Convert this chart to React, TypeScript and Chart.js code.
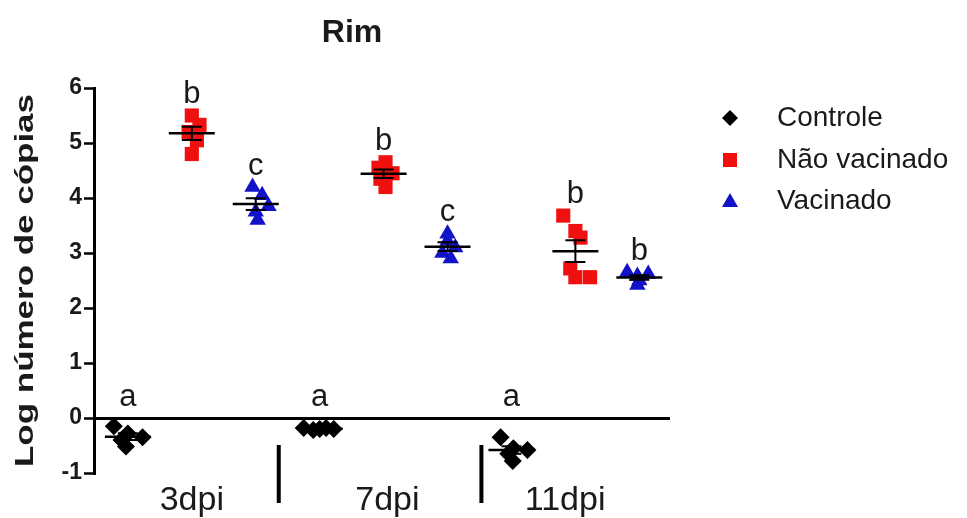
import React, { useEffect, useRef } from 'react';
import { Chart, registerables } from 'chart.js';

Chart.register(...registerables);

// ---------- data ----------
const chartTitle = 'Rim';
const yAxisTitle = 'Log número de cópias';
const dayLabels = ['3dpi', '7dpi', '11dpi'];
const seriesNames = ['Controle', 'Não vacinado', 'Vacinado'];

// values per day (3dpi, 7dpi, 11dpi)
const controleValues = [
  [-0.15, -0.28, -0.35, -0.4, -0.52],
  [-0.18, -0.2, -0.2, -0.22, -0.18],
  [-0.35, -0.55, -0.58, -0.65, -0.78],
];
const naoVacinadoValues = [
  [5.5, 5.33, 5.2, 5.05, 4.8],
  [4.65, 4.55, 4.45, 4.35, 4.2],
  [3.68, 3.4, 3.28, 2.72, 2.56, 2.56],
];
const vacinadoValues = [
  [4.2, 4.05, 3.85, 3.75, 3.6],
  [3.35, 3.22, 3.1, 3.0, 2.9],
  [2.65, 2.62, 2.58, 2.5, 2.42],
];
// horizontal scatter of the points inside their column (column units)
const controleJitter = [
  [-0.22, 0, 0.23, -0.1, -0.03],
  [-0.25, 0, 0.22, -0.1, 0.1],
  [-0.17, 0.03, 0.25, -0.05, 0.02],
];
const naoVacinadoJitter = [
  [0, 0.12, -0.05, 0.08, 0],
  [0.03, -0.08, 0.14, -0.05, 0.03],
  [-0.19, 0, 0.08, -0.08, 0, 0.23],
];
const vacinadoJitter = [
  [-0.05, 0.1, 0.2, 0, 0.03],
  [0, 0, 0.12, -0.08, 0.05],
  [-0.19, 0.14, -0.03, 0, -0.03],
];
const controleLetters = ['a', 'a', 'a'];
const naoVacinadoLetters = ['b', 'b', 'b'];
const vacinadoLetters = ['c', 'c', 'b'];
const yTickValues = [-1, 0, 1, 2, 3, 4, 5, 6];

// ---------- styling / layout ----------
const seriesColors = ['#000000', '#f01010', '#1212c8'];
const seriesPointStyles = ['rectRot', 'rect', 'triangle'];
const seriesPointRadius = [9, 10, 9.5];
const dayLabelSlots = [1.0, 4.06, 6.84];
const separatorSlots = [2.36, 5.53];
const FONT = 'Arial, "Liberation Sans", Helvetica, sans-serif';
const TEXT = '#1a1a1a';

const allValues = [controleValues, naoVacinadoValues, vacinadoValues];
const allJitter = [controleJitter, naoVacinadoJitter, vacinadoJitter];
const allLetters = [controleLetters, naoVacinadoLetters, vacinadoLetters];

function slotOf(day: number, series: number) {
  return day * 3 + series;
}

function buildPoints(series: number) {
  const pts: { x: number; y: number }[] = [];
  allValues[series].forEach((vals, d) => {
    vals.forEach((v, i) => {
      pts.push({ x: slotOf(d, series) + allJitter[series][d][i], y: v });
    });
  });
  return pts;
}

const overlayPlugin = {
  id: 'overlay',
  afterDatasetsDraw(chart: any) {
    const ctx: CanvasRenderingContext2D = chart.ctx;
    const xs = chart.scales.x;
    const ys = chart.scales.y;
    const area = chart.chartArea;
    ctx.save();

    // mean lines, SEM bars and letters
    allValues.forEach((seriesVals, s) => {
      seriesVals.forEach((vals, d) => {
        const n = vals.length;
        const mean = vals.reduce((a, b) => a + b, 0) / n;
        const sd = Math.sqrt(vals.reduce((a, b) => a + (b - mean) * (b - mean), 0) / (n - 1));
        const sem = sd / Math.sqrt(n);
        const cx = xs.getPixelForValue(slotOf(d, s));
        const my = ys.getPixelForValue(mean);
        const top = ys.getPixelForValue(mean + sem);
        const bot = ys.getPixelForValue(mean - sem);
        ctx.strokeStyle = '#000';
        ctx.lineWidth = 2.5;
        ctx.beginPath();
        ctx.moveTo(cx - 23, my);
        ctx.lineTo(cx + 23, my);
        ctx.stroke();
        ctx.lineWidth = 2;
        ctx.beginPath();
        ctx.moveTo(cx, top);
        ctx.lineTo(cx, bot);
        ctx.moveTo(cx - 10, top);
        ctx.lineTo(cx + 10, top);
        ctx.moveTo(cx - 10, bot);
        ctx.lineTo(cx + 10, bot);
        ctx.stroke();

        const maxV = Math.max(0, ...vals);
        const ly = ys.getPixelForValue(maxV) - 21;
        ctx.fillStyle = TEXT;
        ctx.font = `31px ${FONT}`;
        ctx.textAlign = 'center';
        ctx.textBaseline = 'middle';
        ctx.fillText(allLetters[s][d], cx, ly);
      });
    });

    // group separators
    ctx.strokeStyle = '#000';
    ctx.lineWidth = 4;
    separatorSlots.forEach((v) => {
      const px = xs.getPixelForValue(v);
      ctx.beginPath();
      ctx.moveTo(px, area.bottom - 28);
      ctx.lineTo(px, area.bottom + 30);
      ctx.stroke();
    });

    // title
    ctx.fillStyle = TEXT;
    ctx.font = `bold 32px ${FONT}`;
    ctx.textAlign = 'center';
    ctx.textBaseline = 'middle';
    ctx.fillText(chartTitle, 352, 33);

    // y axis title (stretched along its length like the reference)
    ctx.save();
    ctx.translate(26, (area.top + area.bottom) / 2);
    ctx.rotate(-Math.PI / 2);
    ctx.font = `bold 25px ${FONT}`;
    const w = ctx.measureText(yAxisTitle).width;
    ctx.scale(373 / w, 1);
    ctx.textAlign = 'center';
    ctx.textBaseline = 'middle';
    ctx.fillText(yAxisTitle, 0, 0);
    ctx.restore();

    // legend
    const rowsY = [118, 160, 201];
    seriesNames.forEach((name, s) => {
      const mx = 730;
      const my = rowsY[s];
      ctx.fillStyle = seriesColors[s];
      ctx.beginPath();
      if (s === 0) {
        ctx.moveTo(mx, my - 8);
        ctx.lineTo(mx + 8, my);
        ctx.lineTo(mx, my + 8);
        ctx.lineTo(mx - 8, my);
      } else if (s === 1) {
        ctx.rect(mx - 7, my - 7, 14, 14);
      } else {
        ctx.moveTo(mx, my - 8);
        ctx.lineTo(mx + 8, my + 6);
        ctx.lineTo(mx - 8, my + 6);
      }
      ctx.closePath();
      ctx.fill();
      ctx.fillStyle = TEXT;
      ctx.font = `28px ${FONT}`;
      ctx.textAlign = 'left';
      ctx.textBaseline = 'middle';
      ctx.fillText(name, 777, my);
    });

    ctx.restore();
  },
};

export default function App() {
  const ref = useRef<HTMLCanvasElement | null>(null);

  useEffect(() => {
    if (!ref.current) return;
    const chart = new Chart(ref.current, {
      type: 'scatter',
      data: {
        datasets: seriesNames.map((name, s) => ({
          label: name,
          data: buildPoints(s),
          pointStyle: seriesPointStyles[s] as any,
          pointRadius: seriesPointRadius[s],
          pointHoverRadius: seriesPointRadius[s],
          backgroundColor: seriesColors[s],
          borderColor: seriesColors[s],
          borderWidth: 0,
          showLine: false,
        })),
      },
      options: {
        responsive: false,
        animation: false,
        devicePixelRatio: 1,
        layout: { padding: { top: 88, right: 297, left: 0, bottom: 0 } },
        plugins: {
          legend: { display: false },
          title: { display: false },
          tooltip: { enabled: false },
        },
        scales: {
          x: {
            type: 'linear',
            position: 'bottom',
            min: -0.53,
            max: 8.48,
            afterBuildTicks: (scale: any) => {
              scale.ticks = dayLabelSlots.map((v) => ({ value: v }));
            },
            afterFit: (scale: any) => {
              scale.height = 45;
            },
            ticks: {
              autoSkip: false,
              maxRotation: 0,
              padding: 7,
              color: TEXT,
              font: { family: FONT, size: 34 },
              callback: (_v: any, i: number) => dayLabels[i],
            },
            grid: { display: false, drawTicks: false },
            border: { display: false },
          },
          y: {
            type: 'linear',
            min: -1,
            max: 6,
            afterBuildTicks: (scale: any) => {
              scale.ticks = yTickValues.map((v) => ({ value: v }));
            },
            afterFit: (scale: any) => {
              scale.width = 94;
            },
            ticks: {
              padding: 2,
              color: TEXT,
              font: { family: FONT, size: 23, weight: 'bold' },
              callback: (v: any) => String(v),
            },
            grid: {
              drawOnChartArea: true,
              color: (c: any) => (c.tick && c.tick.value === 0 ? '#000' : 'rgba(0,0,0,0)'),
              lineWidth: 3,
              drawTicks: true,
              tickColor: '#000',
              tickLength: 10,
              tickWidth: 2.5,
            },
            border: { display: true, color: '#000', width: 3 },
          },
        },
      },
      plugins: [overlayPlugin],
    } as any);
    return () => chart.destroy();
  }, []);

  return (
    <div style={{ position: 'absolute', left: 0, top: 0, width: 967, height: 518, background: '#fff' }}>
      <canvas ref={ref} width={967} height={518} style={{ display: 'block' }} />
    </div>
  );
}
